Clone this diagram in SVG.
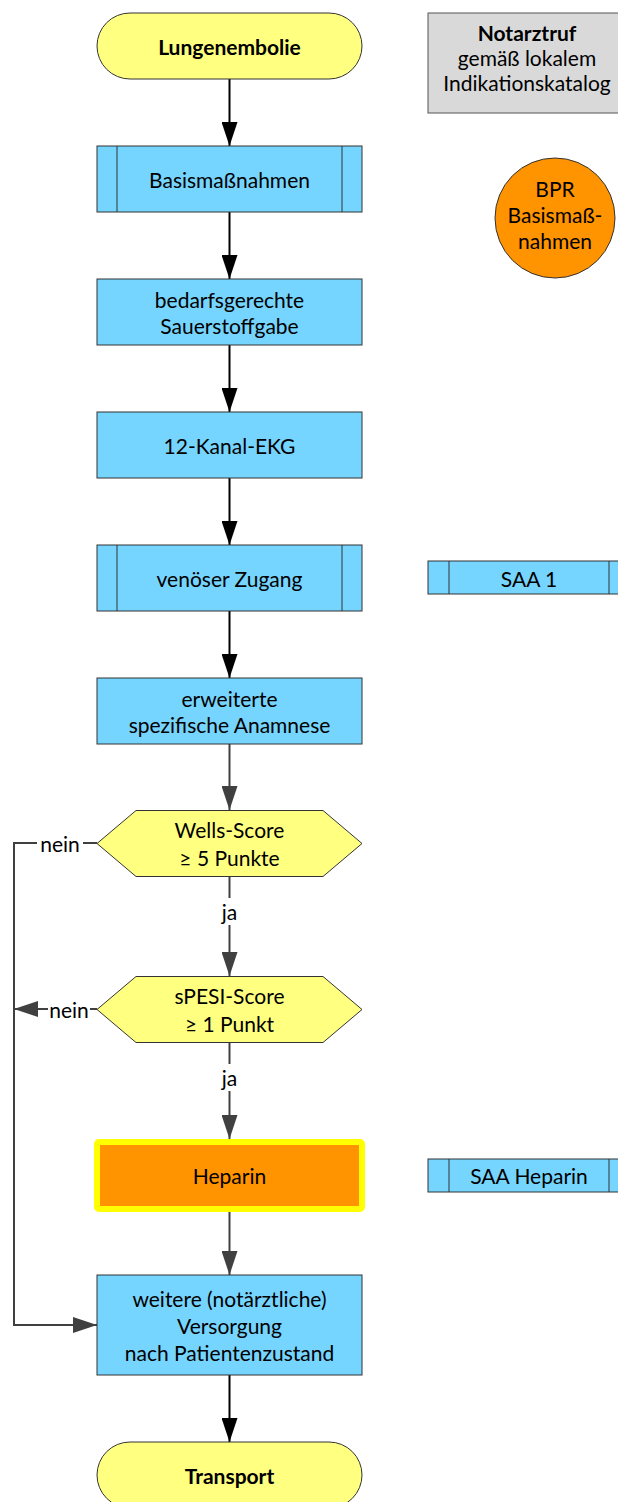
<svg xmlns="http://www.w3.org/2000/svg" width="618" height="1502" viewBox="0 0 618 1502">
<style>
text{font-family:Lato,"Open Sans","Liberation Sans",sans-serif;font-size:21px;fill:#000;text-anchor:middle;dominant-baseline:central}
.b{font-weight:bold}
.term{fill:#FFFF80;stroke:#333;stroke-width:1}
.proc{fill:#75D5FF;stroke:#333;stroke-width:1}
.dec{fill:#FFFF80;stroke:#333;stroke-width:1}
.note{fill:#D9D9D9;stroke:#555;stroke-width:1}
.in{stroke:#333;stroke-width:1;fill:none}
.ck{stroke:#000;stroke-width:2;fill:none}
.cg{stroke:#404040;stroke-width:2;fill:none}
</style>
<defs>
<marker id="ak" markerWidth="24" markerHeight="16" refX="24" refY="8" orient="auto" markerUnits="userSpaceOnUse"><path d="M0,0 L24,8 L0,16 Z" fill="#000"/></marker>
<marker id="ag" markerWidth="24" markerHeight="16" refX="24" refY="8" orient="auto" markerUnits="userSpaceOnUse"><path d="M0,0 L24,8 L0,16 Z" fill="#404040"/></marker>
</defs>
<g id="connectors">
<line class="ck" x1="229.5" y1="79" x2="229.5" y2="146" marker-end="url(#ak)"/>
<line class="ck" x1="229.5" y1="212" x2="229.5" y2="279" marker-end="url(#ak)"/>
<line class="ck" x1="229.5" y1="345" x2="229.5" y2="412" marker-end="url(#ak)"/>
<line class="ck" x1="229.5" y1="478" x2="229.5" y2="545" marker-end="url(#ak)"/>
<line class="ck" x1="229.5" y1="611" x2="229.5" y2="678" marker-end="url(#ak)"/>
<line class="cg" x1="229.5" y1="744" x2="229.5" y2="810" marker-end="url(#ag)"/>
<line class="cg" x1="229.5" y1="877" x2="229.5" y2="898"/>
<text x="229.5" y="911">ja</text>
<line class="cg" x1="229.5" y1="925" x2="229.5" y2="976" marker-end="url(#ag)"/>
<line class="cg" x1="229.5" y1="1043" x2="229.5" y2="1064"/>
<text x="229.5" y="1077">ja</text>
<line class="cg" x1="229.5" y1="1091" x2="229.5" y2="1139" marker-end="url(#ag)"/>
<line class="cg" x1="229.5" y1="1212" x2="229.5" y2="1275" marker-end="url(#ag)"/>
<line class="ck" x1="229.5" y1="1375" x2="229.5" y2="1442" marker-end="url(#ak)"/>
<polyline class="cg" points="97,843 83,843"/>
<text x="60" y="843">nein</text>
<polyline class="cg" points="37,843 14,843 14,1325 97,1325" marker-end="url(#ag)"/>
<line class="cg" x1="97" y1="1009" x2="90" y2="1009"/>
<text x="69" y="1009">nein</text>
<line class="cg" x1="48" y1="1009" x2="14" y2="1009" marker-end="url(#ag)"/>
</g>
<g id="lungenembolie"><rect class="term" x="97" y="13" width="265" height="66" rx="33"/><text class="b" x="229.5" y="46">Lungenembolie</text></g>
<g id="notarztruf"><rect class="note" x="428" y="13" width="200" height="100"/><text class="b" x="527" y="32">Notarztruf</text><text x="527" y="57">gemäß lokalem</text><text x="527" y="82">Indikationskatalog</text></g>
<g id="basis"><rect class="proc" x="97" y="146" width="265" height="66"/><line class="in" x1="117" y1="146" x2="117" y2="212"/><line class="in" x1="342" y1="146" x2="342" y2="212"/><text x="229.5" y="179">Basismaßnahmen</text></g>
<g id="bpr"><circle cx="555" cy="218" r="60" fill="#FF9300" stroke="#333" stroke-width="1"/><text x="555" y="188">BPR</text><text x="555" y="214">Basismaß-</text><text x="555" y="240">nahmen</text></g>
<g id="sauerstoff"><rect class="proc" x="97" y="279" width="265" height="66"/><text x="229.5" y="299">bedarfsgerechte</text><text x="229.5" y="325">Sauerstoffgabe</text></g>
<g id="ekg"><rect class="proc" x="97" y="412" width="265" height="66"/><text x="229.5" y="445">12-Kanal-EKG</text></g>
<g id="zugang"><rect class="proc" x="97" y="545" width="265" height="66"/><line class="in" x1="117" y1="545" x2="117" y2="611"/><line class="in" x1="342" y1="545" x2="342" y2="611"/><text x="229.5" y="578">venöser Zugang</text></g>
<g id="saa1"><rect class="proc" x="428" y="561" width="202" height="33"/><line class="in" x1="449" y1="561" x2="449" y2="594"/><line class="in" x1="609" y1="561" x2="609" y2="594"/><text x="529" y="578">SAA 1</text></g>
<g id="anamnese"><rect class="proc" x="97" y="678" width="265" height="66"/><text x="229.5" y="698">erweiterte</text><text x="229.5" y="724">spezifische Anamnese</text></g>
<g id="wells"><polygon class="dec" points="97,843.5 136,810.5 323,810.5 362,843.5 323,876.5 136,876.5"/><text x="229.5" y="829">Wells-Score</text><text x="229.5" y="857">≥ 5 Punkte</text></g>
<g id="spesi"><polygon class="dec" points="97,1009.5 136,976.5 323,976.5 362,1009.5 323,1042.5 136,1042.5"/><text x="229.5" y="995">sPESI-Score</text><text x="229.5" y="1023">≥ 1 Punkt</text></g>
<g id="heparin"><rect x="97" y="1142" width="265" height="67" rx="2" fill="#FF9300" stroke="#FFFF00" stroke-width="6"/><text x="229.5" y="1175">Heparin</text></g>
<g id="saaheparin"><rect class="proc" x="428" y="1159" width="202" height="33"/><line class="in" x1="449" y1="1159" x2="449" y2="1192"/><line class="in" x1="609" y1="1159" x2="609" y2="1192"/><text x="529" y="1175">SAA Heparin</text></g>
<g id="weitere"><rect class="proc" x="97" y="1275" width="265" height="100"/><text x="229.5" y="1298">weitere (notärztliche)</text><text x="229.5" y="1325">Versorgung</text><text x="229.5" y="1352">nach Patientenzustand</text></g>
<g id="transport"><rect class="term" x="97" y="1442" width="265" height="66" rx="33"/><text class="b" x="229.5" y="1475">Transport</text></g>
</svg>
